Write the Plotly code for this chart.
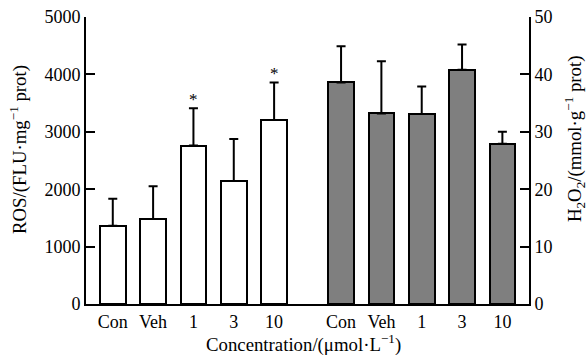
import plotly.graph_objects as go

# Group labels and measured means / SD (upper error only)
categories = ["Con", "Veh", "1", "3", "10"]
ros_mean = [1365, 1480, 2760, 2145, 3205]
ros_sd = [470, 570, 650, 730, 655]
h2o2_mean = [38.6, 33.2, 33.1, 40.8, 27.9]
h2o2_sd = [6.3, 9.1, 4.8, 4.4, 2.1]
ros_signif = ["", "", "*", "", "*"]

left_x = [0, 1, 2, 3, 4]
right_x = [5.66, 6.66, 7.66, 8.66, 9.66]

FONT = "Liberation Serif, Times New Roman, Times, serif"
BAR_W = 0.634
TXT = dict(family=FONT, size=18, color="black")
TITLE = dict(family=FONT, size=18.8, color="black")

fig = go.Figure()

fig.add_trace(go.Bar(
    x=left_x, y=ros_mean, width=BAR_W,
    marker=dict(color="white", line=dict(color="black", width=2)),
    error_y=dict(type="data", array=ros_sd, arrayminus=[0] * 5, symmetric=False,
                 color="black", thickness=2, width=4.5),
    yaxis="y", showlegend=False,
))

fig.add_trace(go.Bar(
    x=right_x, y=h2o2_mean, width=BAR_W,
    marker=dict(color="#7f7f7f", line=dict(color="black", width=2)),
    error_y=dict(type="data", array=h2o2_sd, arrayminus=[0] * 5, symmetric=False,
                 color="black", thickness=2, width=4.5),
    yaxis="y2", showlegend=False,
))

# significance marks above the error bars
for xv, m, s, mark in zip(left_x, ros_mean, ros_sd, ros_signif):
    if mark:
        fig.add_annotation(x=xv, y=m + s, text=mark, showarrow=False,
                           yanchor="bottom", yshift=-3, xref="x", yref="y",
                           font=dict(family=FONT, size=17, color="black"))

# axis titles
fig.add_annotation(text="ROS/(FLU·mg<sup>−1</sup> prot)", textangle=-90,
                   xref="paper", yref="paper", x=-0.151, y=0.537,
                   xanchor="center", yanchor="middle", showarrow=False, font=TITLE)
fig.add_annotation(text="H<sub>2</sub>O<sub>2</sub>/(mmol·g<sup>−1</sup> prot)", textangle=-90,
                   xref="paper", yref="paper", x=1.104, y=0.575,
                   xanchor="center", yanchor="middle", showarrow=False, font=TITLE)
fig.add_annotation(text="Concentration/(μmol·L<sup>−1</sup>)",
                   xref="paper", yref="paper", x=0.49, y=-0.136,
                   xanchor="center", yanchor="middle", showarrow=False, font=TITLE)

axis_common = dict(
    showgrid=False, zeroline=False, showline=True, linecolor="black", linewidth=2,
    ticks="inside", ticklen=9, tickwidth=2, tickcolor="black",
    tickfont=TXT,
)

fig.update_layout(
    width=587, height=355,
    margin=dict(l=86, r=58, t=17, b=51),
    paper_bgcolor="white", plot_bgcolor="white",
    bargap=0,
    xaxis=dict(
        range=[-0.664, 10.32], tickvals=left_x + right_x, ticktext=categories + categories,
        showgrid=False, zeroline=False, showline=True, linecolor="black", linewidth=2,
        ticks="", tickfont=TXT, automargin=False,
    ),
    yaxis=dict(
        range=[0, 5000], tickvals=[0, 1000, 2000, 3000, 4000, 5000], automargin=False,
        **axis_common,
    ),
    yaxis2=dict(
        range=[0, 50], tickvals=[0, 10, 20, 30, 40, 50], overlaying="y", side="right",
        automargin=False,
        **axis_common,
    ),
)

fig.write_html("out.html")
